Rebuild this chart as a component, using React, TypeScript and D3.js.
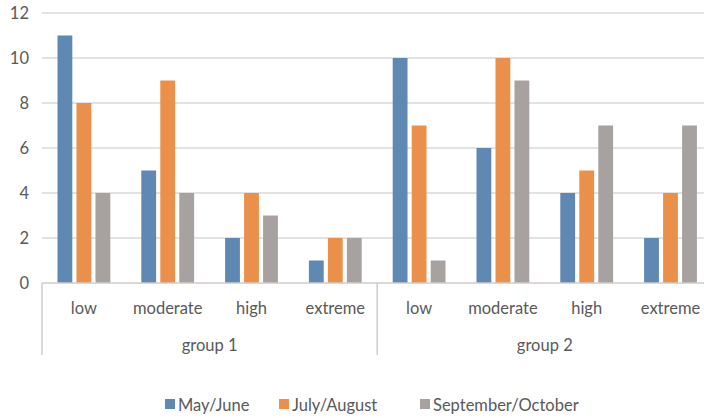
import React from 'react';
import * as d3 from 'd3';

const groups = ['group 1', 'group 2'];
const levels = ['low', 'moderate', 'high', 'extreme'];
const seriesNames = ['May/June', 'July/August', 'September/October'];
const seriesColors = ['#5f88b3', '#eb904a', '#a7a1a0'];
// values[series][category index], categories = group 1 levels then group 2 levels
const mayJune = [11, 5, 2, 1, 10, 6, 4, 2];
const julyAugust = [8, 9, 4, 2, 7, 10, 5, 4];
const septOct = [4, 4, 3, 2, 1, 9, 7, 7];
const yTicks = [0, 2, 4, 6, 8, 10, 12];

const W = 704;
const H = 418;
const font = "Lato, 'Open Sans', sans-serif";
const fs = 16.5;
const textColor = '#595959';

export default function App() {
  const series = [mayJune, julyAugust, septOct];
  const cats = groups.flatMap(g => levels.map(l => `${g}|${l}`));
  const left = 42;
  const catW = 83.8;
  const x = d3.scaleBand<string>().domain(cats).range([left, left + catW * cats.length]).padding(0);
  const inner = d3.scaleBand<string>().domain(seriesNames).range([15.5, catW - 15.5]).paddingInner(0.22);
  const y = d3.scaleLinear().domain([0, 12]).range([283, 13]);
  const axisBottom = 355;

  const legendItems = [
    { x: 165, name: seriesNames[0], color: seriesColors[0] },
    { x: 279, name: seriesNames[1], color: seriesColors[1] },
    { x: 420, name: seriesNames[2], color: seriesColors[2] },
  ];

  return (
    <div style={{ position: 'absolute', left: 0, top: 0 }}>
      <svg width={W} height={H} style={{ display: 'block', background: '#fff' }}>
        {/* gridlines */}
        {yTicks.filter(t => t > 0).map(t => (
          <line key={t} x1={left} x2={W} y1={y(t)} y2={y(t)} stroke="#d9d9d9" strokeWidth={1.3} />
        ))}
        {yTicks.map(t => (
          <text key={'l' + t} x={29} y={y(t)} dy="0.35em" textAnchor="end" fontSize={fs} fill={textColor} fontFamily={font}>
            {t}
          </text>
        ))}
        {/* bars */}
        {cats.map((c, ci) => (
          <g key={c} transform={`translate(${x(c)},0)`}>
            {series.map((s, si) => (
              <rect
                key={si}
                x={inner(seriesNames[si])}
                y={y(s[ci])}
                width={inner.bandwidth()}
                height={y(0) - y(s[ci])}
                fill={seriesColors[si]}
              />
            ))}
          </g>
        ))}
        {/* x axis */}
        <line x1={left} x2={W} y1={y(0)} y2={y(0)} stroke="#cfcbc9" strokeWidth={1.5} />
        <line x1={left} x2={left} y1={y(0)} y2={axisBottom} stroke="#cfcbc9" strokeWidth={1.5} />
        <line x1={x(cats[4])} x2={x(cats[4])} y1={y(0)} y2={axisBottom} stroke="#cfcbc9" strokeWidth={1.5} />
        {cats.map((c, ci) => (
          <text key={'c' + c} x={(x(c) as number) + catW / 2} y={308} dy="0.35em" textAnchor="middle" fontSize={fs} fill={textColor} fontFamily={font}>
            {levels[ci % levels.length]}
          </text>
        ))}
        {groups.map((g, gi) => (
          <text key={g} x={(x(cats[gi * 4]) as number) + catW * 2} y={345} dy="0.35em" textAnchor="middle" fontSize={fs} fill={textColor} fontFamily={font}>
            {g}
          </text>
        ))}
        {/* legend */}
        {legendItems.map(it => (
          <g key={it.name}>
            <rect x={it.x} y={399} width={10} height={10} fill={it.color} />
            <text x={it.x + 13} y={405} dy="0.35em" fontSize={fs} fill={textColor} fontFamily={font}>
              {it.name}
            </text>
          </g>
        ))}
      </svg>
    </div>
  );
}
